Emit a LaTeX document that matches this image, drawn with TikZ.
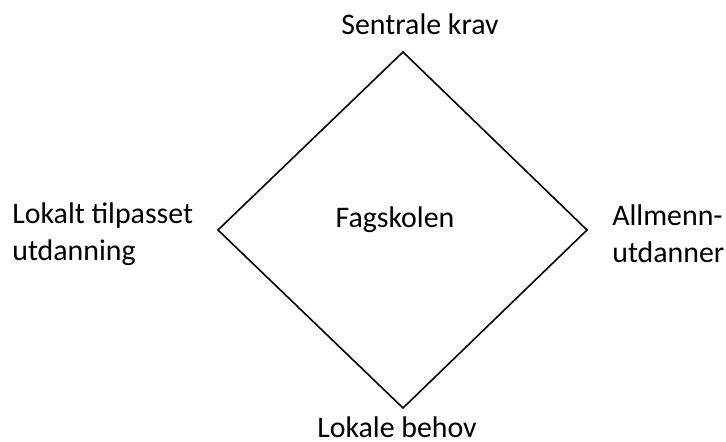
\documentclass[tikz,border=0pt]{standalone}
\usepackage{fontspec}
\setmainfont{Carlito}
\usetikzlibrary{positioning}
\begin{document}
\begin{tikzpicture}[x=0.02cm, y=-0.02cm, lbl/.style={inner sep=0pt, font=\fontsize{17}{21}\selectfont}]
    \useasboundingbox (0,0) rectangle (726,442);
    \coordinate (top) at (403,52);
    \coordinate (right) at (587,230);
    \coordinate (bottom) at (403,408);
    \coordinate (left) at (218,230);

    \node[lbl, anchor=base] (central) at (420,35) {Sentrale krav};
    \node[lbl, anchor=base] (needs) at (397,437) {Lokale behov};
    \node[lbl, anchor=base] (school) at (395,227) {Fagskolen};
    \node[lbl, anchor=base west, align=left] (adapted) at (12,260) {Lokalt tilpasset\\utdanning};
    \node[lbl, anchor=base west, align=left] (general) at (612,262) {Allmenn-\\utdanner};

    \draw[line width=0.9pt] (top) -- (right) -- (bottom) -- (left) -- cycle;
\end{tikzpicture}
\end{document}
